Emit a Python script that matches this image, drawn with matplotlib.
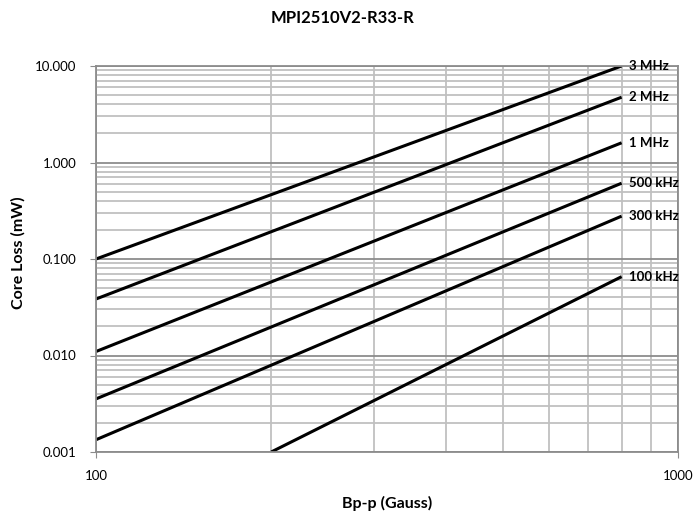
import matplotlib
matplotlib.use("Agg")
import matplotlib.pyplot as plt
from matplotlib.ticker import FixedLocator, NullFormatter, FuncFormatter

plt.rcParams['font.family'] = ['Lato', 'DejaVu Sans']

labels = ["3 MHz", "2 MHz", "1 MHz", "500 kHz", "300 kHz", "100 kHz"]
x_3mhz = [100, 800]; y_3mhz = [0.100, 10.0]
x_2mhz = [100, 800]; y_2mhz = [0.0385, 4.75]
x_1mhz = [100, 800]; y_1mhz = [0.0110, 1.60]
x_500k = [100, 800]; y_500k = [0.00355, 0.61]
x_300k = [100, 800]; y_300k = [0.00134, 0.278]
x_100k = [200, 800]; y_100k = [0.00100, 0.0656]
series = [(x_3mhz, y_3mhz), (x_2mhz, y_2mhz), (x_1mhz, y_1mhz),
          (x_500k, y_500k), (x_300k, y_300k), (x_100k, y_100k)]

fig = plt.figure(figsize=(6.95, 5.15), dpi=100)
ax = fig.add_axes([96/695, 1-452/515, (678-96)/695, (452-66)/515])
ax.set_xscale('log'); ax.set_yscale('log')
ax.set_xlim(100, 1000); ax.set_ylim(0.001, 10)

ax.yaxis.set_major_locator(FixedLocator([0.001, 0.01, 0.1, 1, 10]))
ax.yaxis.set_major_formatter(FuncFormatter(lambda v, p: f"{v:.3f}"))
ymin = [m * 10**e for e in range(-3, 1) for m in range(2, 10)]
ax.yaxis.set_minor_locator(FixedLocator(ymin))
ax.yaxis.set_minor_formatter(NullFormatter())
ax.xaxis.set_major_locator(FixedLocator([100, 1000]))
ax.xaxis.set_major_formatter(FuncFormatter(lambda v, p: f"{v:.0f}"))
ax.xaxis.set_minor_locator(FixedLocator([m * 100 for m in range(2, 10)]))
ax.xaxis.set_minor_formatter(NullFormatter())

ax.grid(which='major', color='#8c8c8c', linewidth=1.3)
ax.grid(which='minor', color='#c0c0c0', linewidth=1.3)
ax.set_axisbelow(True)
for s in ax.spines.values():
    s.set_color('#8c8c8c'); s.set_linewidth(1.3)
ax.tick_params(axis='y', which='major', length=4, color='#8c8c8c', labelsize=9.5, pad=10)
ax.tick_params(axis='x', which='major', length=4, color='#8c8c8c', labelsize=9.5, pad=9)
ax.tick_params(which='minor', length=0)

for (xs, ys), lab in zip(series, labels):
    ax.plot(xs, ys, color='black', linewidth=2.2, solid_capstyle='butt')
    ax.annotate(lab, (xs[-1], ys[-1]), xytext=(5.5, 0), textcoords='offset points',
                fontsize=9.5, fontweight='bold', va='center', ha='left')

fig.text(343/695, 1-18/515, "MPI2510V2-R33-R", ha='center', va='center',
         fontsize=12, fontweight='bold')
fig.text(387/695, 1-503/515, "Bp-p (Gauss)", ha='center', va='center',
         fontsize=11.5, fontweight='bold')
fig.text(18/695, 1-(198+308)/2/515, "Core Loss (mW)", ha='center', va='center',
         rotation=90, fontsize=11.5, fontweight='bold')

fig.savefig("out.png", dpi=100)
